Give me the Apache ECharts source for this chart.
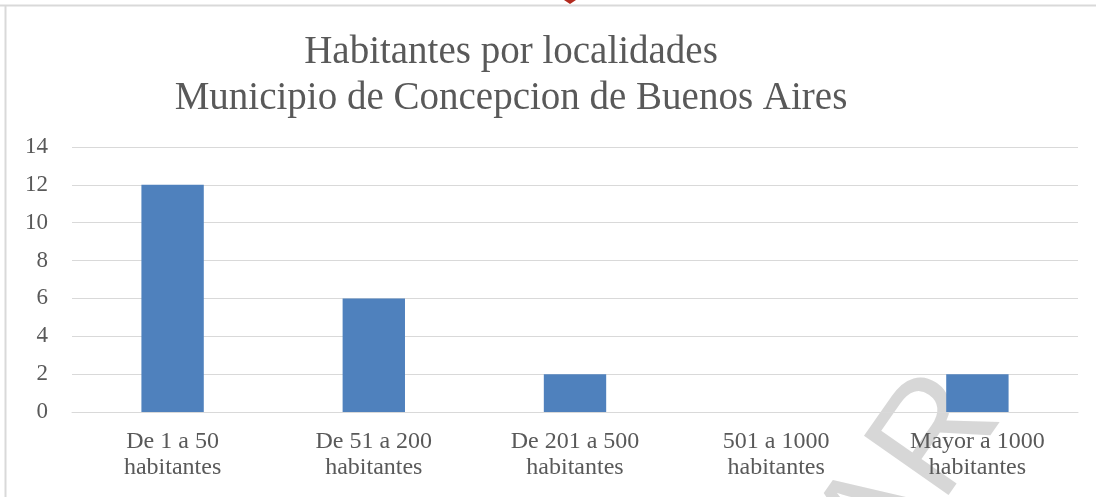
<!DOCTYPE html>
<html>
<head>
<meta charset="utf-8">
<style>
  html, body { margin: 0; padding: 0; background: #ffffff; }
  #chart { width: 1096px; height: 497px; }
</style>
<script src="https://cdn.jsdelivr.net/npm/echarts@6/dist/echarts.min.js"></script>
</head>
<body>
<div id="chart"></div>
<script>
// Number of localities in each population bracket
const categories = [
  'De 1 a 50\nhabitantes',
  'De 51 a 200\nhabitantes',
  'De 201 a 500\nhabitantes',
  '501 a 1000\nhabitantes',
  'Mayor a 1000\nhabitantes'
];
const localidades = [12, 6, 2, 0, 2];
const titleLines = ['Habitantes por localidades', 'Municipio de Concepcion de Buenos Aires'];
const watermark = 'AR';

const serif = '"Liberation Serif", "DejaVu Serif", serif';
const textColor = '#595959';
const gridColor = '#d9d9d9';

const chart = echarts.init(document.getElementById('chart'));
chart.setOption({
  animation: false,
  backgroundColor: '#ffffff',
  title: {
    text: titleLines.join('\n'),
    left: 511,
    top: 30,
    textAlign: 'center',
    padding: 0,
    textStyle: {
      fontFamily: serif,
      fontSize: 39,
      fontWeight: 'normal',
      color: textColor,
      lineHeight: 46
    }
  },
  grid: { left: 72, right: 18, top: 147, bottom: 85, containLabel: false },
  xAxis: {
    type: 'category',
    data: categories,
    axisLine: { show: true, lineStyle: { color: gridColor, width: 1 } },
    axisTick: { show: false },
    axisLabel: {
      fontFamily: serif,
      fontSize: 24,
      color: textColor,
      lineHeight: 26,
      margin: 17,
      interval: 0
    }
  },
  yAxis: {
    type: 'value',
    min: 0,
    max: 14,
    interval: 2,
    axisLine: { show: false },
    axisTick: { show: false },
    splitLine: { lineStyle: { color: gridColor, width: 1 } },
    axisLabel: {
      fontFamily: serif,
      fontSize: 23,
      color: textColor,
      margin: 24
    }
  },
  series: [{
    type: 'bar',
    data: localidades,
    barWidth: '31%',
    itemStyle: { color: '#4f81bd' },
    z: 5
  }],
  graphic: [
    // frame edges along the top and left
    { type: 'line', shape: { x1: 0, y1: 5.5, x2: 1096, y2: 5.5 }, style: { stroke: '#d9d9d9', lineWidth: 2 }, z: 10 },
    { type: 'line', shape: { x1: 5.5, y1: 5, x2: 5.5, y2: 497 }, style: { stroke: '#d9d9d9', lineWidth: 2 }, z: 10 },
    // small red marker clipped at the top edge
    { type: 'polygon', shape: { points: [[564, 0], [576, 0], [570, 4]] }, style: { fill: '#b22a1e' }, z: 10 },
    // diagonal watermark text, kept beneath the chart marks
    {
      type: 'text',
      x: 910, y: 478,
      rotation: 55 * Math.PI / 180,
      style: {
        text: watermark,
        fontFamily: '"Liberation Sans", Arial, sans-serif',
        fontSize: 150,
        fill: 'rgba(175,175,175,0.5)',
        align: 'center',
        verticalAlign: 'middle'
      },
      z: -1
    }
  ]
});
</script>
</body>
</html>
